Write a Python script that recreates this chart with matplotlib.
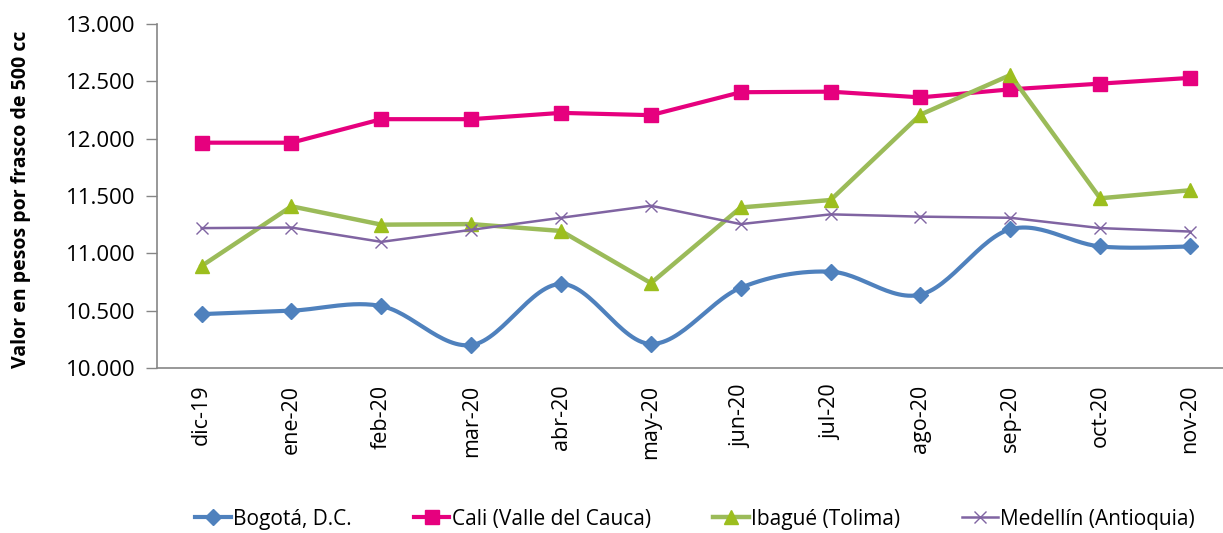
import numpy as np
import matplotlib.pyplot as plt
from matplotlib.lines import Line2D
from matplotlib.ticker import FuncFormatter

plt.rcParams['font.family'] = ['Open Sans', 'DejaVu Sans']

meses = ['dic-19', 'ene-20', 'feb-20', 'mar-20', 'abr-20', 'may-20',
         'jun-20', 'jul-20', 'ago-20', 'sep-20', 'oct-20', 'nov-20']

bogota = [10470, 10500, 10540, 10200, 10733, 10210, 10700, 10840, 10640, 11210, 11060, 11060]
cali = [11965, 11965, 12170, 12170, 12225, 12205, 12405, 12410, 12360, 12430, 12480, 12530]
ibague = [10890, 11410, 11250, 11255, 11195, 10740, 11400, 11465, 12210, 12555, 11480, 11550]
medellin = [11220, 11225, 11100, 11205, 11310, 11415, 11255, 11340, 11320, 11310, 11220, 11190]

nombres = ['Bogotá, D.C.', 'Cali (Valle del Cauca)', 'Ibagué (Tolima)', 'Medellín (Antioquia)']


def smooth(xs, ys, n=30):
    # bezier suave tipo Excel (catmull-rom)
    p = np.column_stack([xs, ys]).astype(float)
    p = np.vstack([p[0], p, p[-1]])
    out = []
    t = np.linspace(0, 1, n)[:, None]
    for i in range(1, len(p) - 2):
        p0, p1, p2, p3 = p[i - 1], p[i], p[i + 1], p[i + 2]
        c1 = p1 + (p2 - p0) / 6
        c2 = p2 - (p3 - p1) / 6
        seg = ((1 - t) ** 3) * p1 + 3 * ((1 - t) ** 2) * t * c1 + 3 * (1 - t) * t ** 2 * c2 + t ** 3 * p2
        out.append(seg)
    out = np.vstack(out)
    return out[:, 0], out[:, 1]


W, H = 1223, 533
fig = plt.figure(figsize=(W / 100, H / 100), dpi=100)
left, right, bottom, top = 156.7, 1235, 368, 24
ax = fig.add_axes([left / W, (H - bottom) / H, (right - left) / W, (bottom - top) / H])

x = np.arange(len(meses))
c_bog = '#4F81BD'
c_cali = '#E6007E'
c_iba = '#9BBB59'
c_iba_m = '#9CBE1E'
c_med = '#8064A2'

sx, sy = smooth(x, bogota)
ax.plot(sx, sy, color=c_bog, lw=3, solid_capstyle='round', zorder=2)
ax.plot(x, bogota, ls='none', marker='D', ms=8, color=c_bog, zorder=2)
ax.plot(x, cali, color=c_cali, lw=3, marker='s', ms=10, zorder=3)
ax.plot(x, ibague, color=c_iba, lw=3.2, marker='^', ms=10, mfc=c_iba_m, mec=c_iba_m, zorder=4)
ax.plot(x, medellin, color=c_med, lw=1.8, marker='x', ms=8, mew=1.0, zorder=5)

ax.set_xlim(-0.5, len(meses) - 0.5)
ax.set_ylim(10000, 13000)
ax.set_yticks(np.arange(10000, 13001, 500))
ax.yaxis.set_major_formatter(FuncFormatter(lambda v, p: f'{int(v):,}'.replace(',', '.')))
ax.set_xticks(x)
ax.set_xticklabels(meses, rotation=90, fontsize=15.5)
ax.tick_params(axis='x', length=0, pad=12)
ax.tick_params(axis='y', length=8, width=1, color='#868686', labelsize=16, pad=7)

for s in ['top', 'right']:
    ax.spines[s].set_visible(False)
for s in ['left', 'bottom']:
    ax.spines[s].set_color('#868686')
    ax.spines[s].set_linewidth(1.2)

ax.set_ylabel('Valor en pesos por frasco de 500 cc', fontsize=14, fontweight='bold')
ax.yaxis.set_label_coords(-0.1166, 0.49)

handles = [
    Line2D([], [], color=c_bog, lw=3, marker='D', ms=8),
    Line2D([], [], color=c_cali, lw=3, marker='s', ms=10),
    Line2D([], [], color=c_iba, lw=3.2, marker='^', ms=10, mfc=c_iba_m, mec=c_iba_m),
    Line2D([], [], color=c_med, lw=1.8, marker='x', ms=8, mew=1.0),
]
fig.legend(handles, nombres, loc='center', ncol=4, frameon=False, fontsize=15,
           bbox_to_anchor=(695 / W, 1 - 519 / H), handlelength=1.7, handletextpad=0.1,
           columnspacing=3.0, borderpad=0.1)

fig.savefig('out.png', dpi=100)
